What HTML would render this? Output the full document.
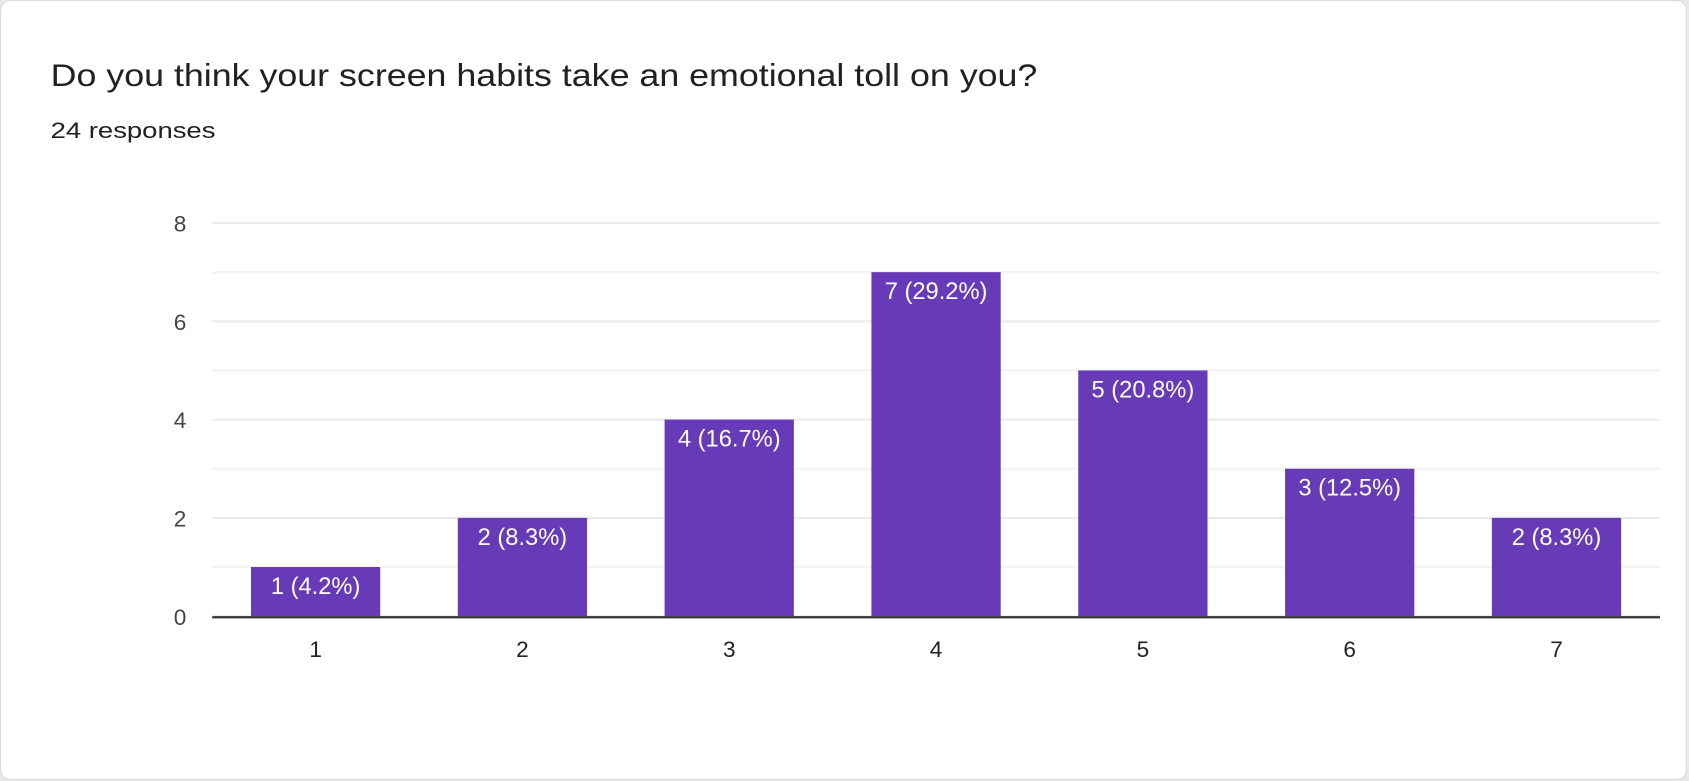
<!DOCTYPE html>
<html><head><meta charset="utf-8"><style>
html,body{margin:0;padding:0;background:#e8e8e8;overflow:hidden}
svg{display:block;font-family:"Liberation Sans",Arial,sans-serif}
</style></head><body>
<svg id="chart" width="1689" height="781" viewBox="0 0 1568 725" xmlns="http://www.w3.org/2000/svg">
<rect x="0.5" y="0.5" width="1565" height="723" rx="9" fill="#fff" stroke="#dadce0"/>
<text x="47" y="80" font-size="29" fill="#202124" textLength="916" lengthAdjust="spacingAndGlyphs">Do you think your screen habits take an emotional toll on you?</text>
<text x="47" y="128" font-size="21" fill="#202124" textLength="153" lengthAdjust="spacingAndGlyphs">24 responses</text>
<g id="plot"></g>
</svg>
<script>
const categories = ["1","2","3","4","5","6","7"];
const counts = [1,2,4,7,5,3,2];
const labels = ["1 (4.2%)","2 (8.3%)","4 (16.7%)","7 (29.2%)","5 (20.8%)","3 (12.5%)","2 (8.3%)"];
const yTicks = [0,2,4,6,8];
const yMax = 8;
const NS="http://www.w3.org/2000/svg";
const g=document.getElementById('plot');
const X0=197,X1=1541,Y0=572,Y1=207;
const band=(X1-X0)/categories.length;
const y=v=>Y0-(Y0-Y1)*v/yMax;
const xc=i=>X0+band*(i+0.5);
function mk(t,a){const e=document.createElementNS(NS,t);for(const k in a)e.setAttribute(k,a[k]);g.appendChild(e);return e;}
for(let v=0;v<=yMax;v++){
  const l=mk('line',{x1:X0,x2:X1,y1:y(v),y2:y(v),stroke:v%2?'#f3f3f3':'#ebebeb','stroke-width':2});
  
  
}
yTicks.forEach(v=>{
  const t=mk('text',{x:173,y:y(v)+8,'text-anchor':'end','font-size':21,fill:'#444'});
  t.textContent=v;
  
  
});
categories.forEach((c,i)=>{
  const bw=120;
  const r=mk('rect',{x:xc(i)-bw/2,y:y(counts[i]),width:bw,height:Y0-y(counts[i]),fill:'#673ab7'});
  
  
  const t=mk('text',{x:xc(i),y:y(counts[i])+25,'text-anchor':'middle','font-size':22,fill:'#fff'});
  t.textContent=labels[i];
  
  
  const xl=mk('text',{x:xc(i),y:610,'text-anchor':'middle','font-size':21,fill:'#222'});
  xl.textContent=c;
  
  
});
const ax=mk('line',{x1:X0,x2:X1,y1:Y0+1,y2:Y0+1,stroke:'#333','stroke-width':2});


</script>
</body></html>
